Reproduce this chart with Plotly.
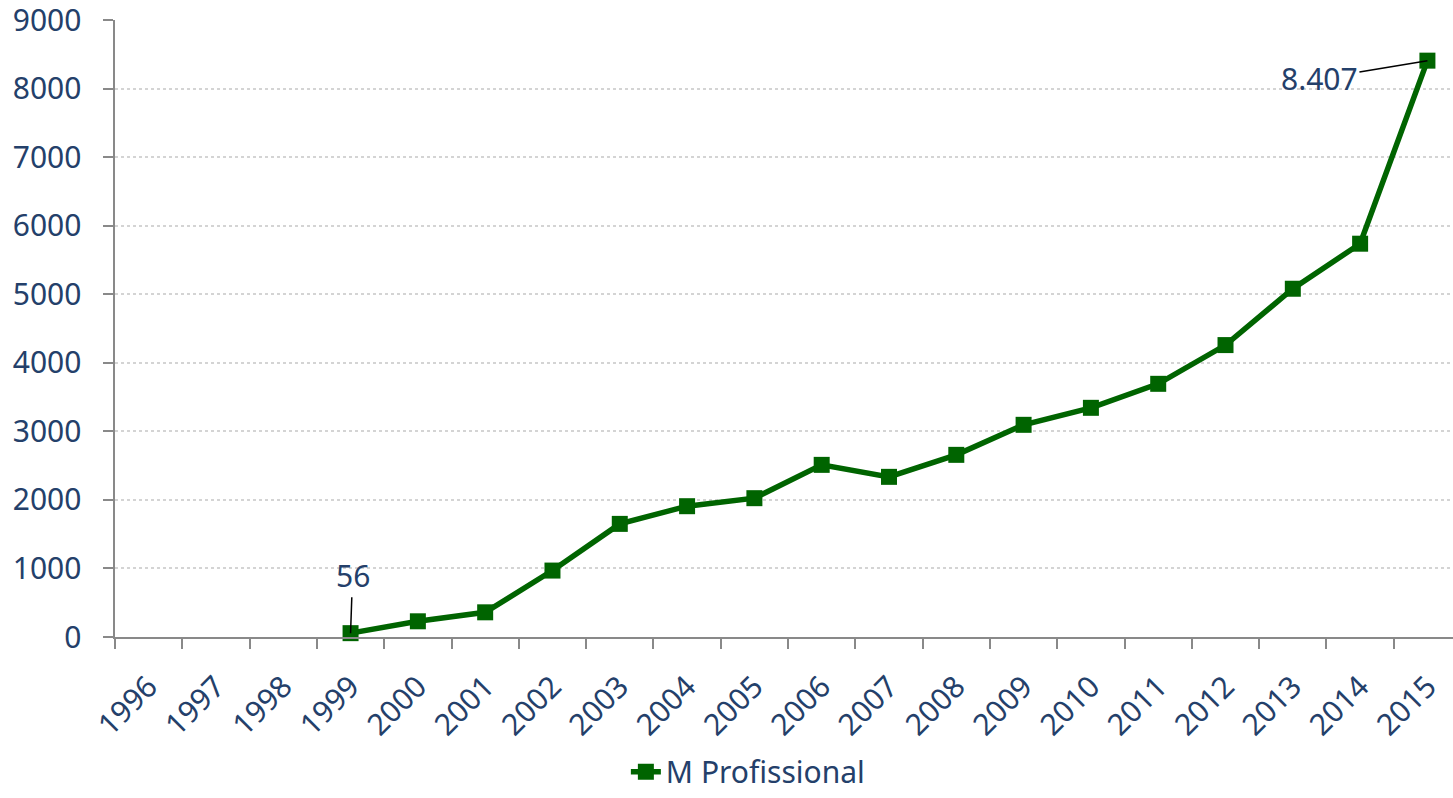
import plotly.graph_objects as go

# data
years = [str(y) for y in range(1996, 2016)]
m_profissional = [None, None, None, 56, 229, 360, 969, 1650, 1908, 2025,
                  2511, 2336, 2657, 3095, 3343, 3693, 4258, 5080, 5737, 8407]

_line_color = "#006400"
_text_color = "#24406a"
_axis_color = "#898989"
_grid_color = "#d4d4d4"
_font = "Noto Sans"

fig = go.Figure()

fig.add_trace(go.Scatter(x=years, y=m_profissional,
                         mode="lines+markers",
                         name="M Profissional",
                         line=dict(color=_line_color, width=5.5),
                         marker=dict(symbol="square", size=16, color=_line_color),
                         cliponaxis=False,
                         connectgaps=False))

# data labels on first and last point
fig.add_annotation(x=3, y=m_profissional[3], text="56",
                   showarrow=True, arrowhead=0, arrowwidth=1.5, arrowcolor="black",
                   ax=2, ay=-58,
                   font=dict(size=30, color=_text_color, family=_font))
fig.add_annotation(x=19, y=m_profissional[-1], text="8.407",
                   showarrow=True, arrowhead=0, arrowwidth=1.5, arrowcolor="black",
                   ax=-108, ay=18,
                   font=dict(size=30, color=_text_color, family=_font))

fig.update_xaxes(type="category", range=[-0.5, 19.38], automargin=False,
                 showline=True, linecolor=_axis_color, linewidth=2,
                 ticks="outside", tickson="boundaries", ticklen=10,
                 tickcolor=_axis_color, tickwidth=2,
                 tickangle=-45, showgrid=False, ticklabelstandoff=18,
                 tickfont=dict(size=30, color=_text_color, family=_font))
fig.update_yaxes(range=[0, 9000], dtick=1000, automargin=False,
                 showline=True, linecolor=_axis_color, linewidth=2,
                 ticks="outside", ticklen=10, tickcolor=_axis_color, tickwidth=2,
                 showgrid=True, gridcolor=_grid_color, gridwidth=1.5, griddash="dot",
                 zeroline=False, ticksuffix="  ", ticklabeloverflow="allow",
                 tickfont=dict(size=30, color=_text_color, family=_font))

fig.update_layout(
    width=1453, height=798,
    plot_bgcolor="white", paper_bgcolor="white",
    margin=dict(l=115, r=0, t=20, b=161, autoexpand=False),
    showlegend=True,
    legend=dict(orientation="h", x=0.473, xanchor="center", y=-0.2605, yanchor="bottom",
                font=dict(size=30, color=_text_color, family=_font)),
    font=dict(family=_font, color=_text_color),
)

# drop the default 8px body margin so the figure fills the window exactly
fig.write_html("out.html", config={"displayModeBar": False},
               post_script="document.body.style.margin = '0';")
